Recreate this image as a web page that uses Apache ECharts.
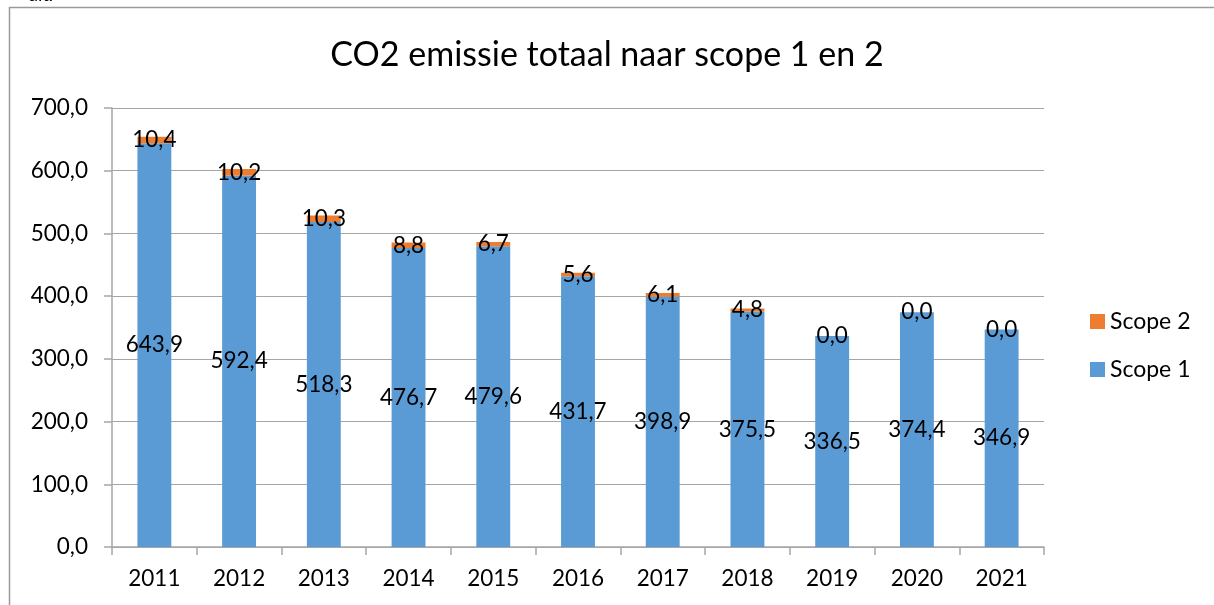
<!DOCTYPE html>
<html><head><meta charset="utf-8">
<script src="https://cdn.jsdelivr.net/npm/echarts@6/dist/echarts.min.js"></script>
<style>html,body{margin:0;padding:0;background:#fff}#c{width:1214px;height:605px}</style>
</head><body><div id="c"></div>
<script>
const years = ['2011','2012','2013','2014','2015','2016','2017','2018','2019','2020','2021'];
const scope1 = [643.9, 592.4, 518.3, 476.7, 479.6, 431.7, 398.9, 375.5, 336.5, 374.4, 346.9];
const scope2 = [10.4, 10.2, 10.3, 8.8, 6.7, 5.6, 6.1, 4.8, 0.0, 0.0, 0.0];
const fmt = v => Number(v).toFixed(1).replace('.', ',');
const FONT = 'Lato, "Open Sans", sans-serif';
const chart = echarts.init(document.getElementById('c'), null, {renderer:'canvas'});
chart.setOption({
  animation: false,
  textStyle: {fontFamily: FONT},
  title: {text: 'CO2 emissie totaal naar scope 1 en 2', left: 'center', top: 33,
    textStyle: {fontFamily: FONT, fontSize: 34, fontWeight: 'normal', color: '#000'}},
  graphic: [
    {type:'rect', shape:{x:9.5, y:7.5, width:1300, height:700}, style:{fill:'none', stroke:'#9a9a9a', lineWidth:1.5}, z:-1},
    {type:'text', left: 28, top: -14, style:{text:'dit.', font:'18px ' + FONT, fill:'#000'}}
  ],
  legend: {orient:'vertical', left: 1085, top: 305, itemWidth: 15, itemHeight: 15, itemGap: 25,
    icon: 'rect', textStyle: {fontSize: 23, color: '#000', fontFamily: FONT},
    data: ['Scope 2', 'Scope 1']},
  grid: {left: 112, right: 170, top: 108, bottom: 58},
  xAxis: {type:'category', data: years,
    axisLine: {lineStyle:{color:'#a6a6a6', width:1.5}},
    axisTick: {show:true, alignWithLabel:false, length:8, lineStyle:{color:'#a6a6a6', width:1.5}},
    axisLabel: {fontSize: 22.5, color:'#000', margin: 20, fontFamily: FONT}},
  yAxis: {type:'value', min:0, max:700, interval:100,
    axisLine: {show:true, lineStyle:{color:'#a6a6a6', width:1.5}},
    axisTick: {show:true, length:8, lineStyle:{color:'#a6a6a6', width:1.5}},
    splitLine: {lineStyle:{color:'#a6a6a6', width:1}},
    axisLabel: {fontSize: 22.5, color:'#000', margin: 24, fontFamily: FONT, formatter: v => fmt(v)}},
  series: [
    {name:'Scope 1', type:'bar', stack:'t', data: scope1, barWidth: '40%',
     itemStyle:{color:'#5B9BD5'},
     label:{show:true, position:'inside', color:'#000', fontSize:22.5, fontFamily: FONT, formatter: p => fmt(p.value)}},
    {name:'Scope 2', type:'bar', stack:'t', data: scope2, barWidth: '40%',
     itemStyle:{color:'#ED7D31'},
     label:{show:true, position:'inside', color:'#000', fontSize:22.5, fontFamily: FONT, formatter: p => fmt(p.value)}}
  ]
});
</script></body></html>
